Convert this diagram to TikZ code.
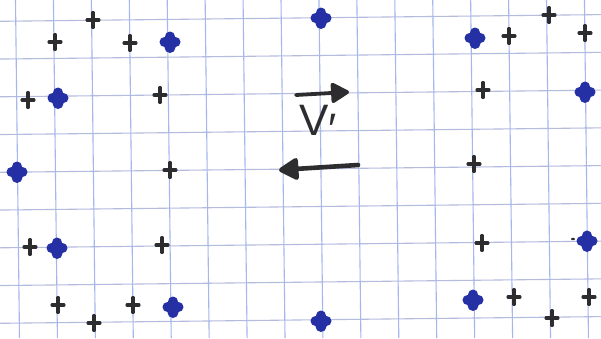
\documentclass[tikz,border=0pt]{standalone}
\usepackage{fontspec}
\newfontfamily\handfont{Liberation Sans}
\usetikzlibrary{arrows.meta}
\definecolor{gridv}{RGB}{165,182,240}
\definecolor{gridh}{RGB}{180,188,222}
\definecolor{ink}{RGB}{45,45,48}
\definecolor{blueink}{RGB}{38,48,165}
\tikzset{
 pm/.pic={\draw[ink,line width=3.1pt,line cap=round] (-6,0)--(6,0) (0,-7.5)--(0,7.5);},
 bm/.pic={\fill[blueink] (0,0) circle (6.5pt) (-5.5,0) circle (5pt) (5.5,0) circle (5pt) (0,-5.5) circle (5pt) (0,5.5) circle (5.5pt);},
 arrowline/.style={ink,line width=3.8pt,line cap=round,-{Triangle[length=20pt,width=22pt,round]}},
 arrowthick/.style={ink,line width=4.6pt,line cap=round,-{Triangle[length=22pt,width=24pt,round]}},
 gridlineh/.style={gridh,line width=1.1pt},
 gridlinev/.style={gridv,line width=1.1pt}
}
\begin{document}
\begin{tikzpicture}[x=1pt,y=-1pt]
\fill[white] (0,0) rectangle (601,338);
\useasboundingbox (0,0) rectangle (601,338);
\foreach \j in {0,...,8} \draw[gridlineh] (0,{21.3+37.75*\j}) -- (601,{14.6+37.75*\j});
\foreach \i in {0,...,15} \draw[gridlinev] ({17.5+37.93*\i-2},0) -- ({17.5+37.93*\i+2},338);
% black crosses
\foreach \x/\y in {93/20,55/42,130/43,28/100,160/95,170/170,30/247,162/245,58/305,94/323,133/305,
  549/15,509/36,585/33,483/90,474/164,482/243,514/297,552/318,589/297}
  \pic at (\x,\y) {pm};
% blue blobs
\foreach \x/\y in {17/172,170/42,58/98,57/248,173/307,321/18,321/321,475/38,585/92,587/241,473/300}
  \pic at (\x,\y) {bm};
\fill[ink] (573,239) ellipse (2pt and 1.2pt);
% arrows and label
\coordinate (r1) at (296,95);
\coordinate (r2) at (349,92);
\draw[arrowline] (r1) -- (r2);
\coordinate (l1) at (358,165);
\coordinate (l2) at (279,170);
\draw[arrowthick] (l1) -- (l2);
\node[ink,anchor=base west,inner sep=0pt,font=\handfont\fontsize{44}{44}\selectfont] (vlabel) at (299,135) {V\raisebox{-9pt}{′}};
\end{tikzpicture}
\end{document}
